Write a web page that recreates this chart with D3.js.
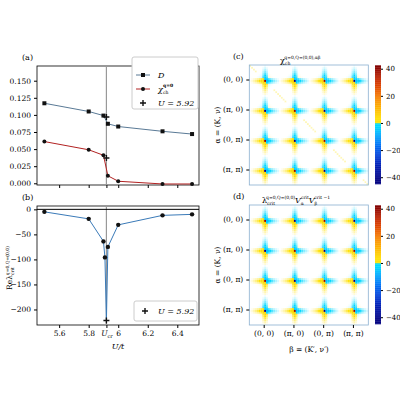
<!DOCTYPE html><html><head><meta charset="utf-8"><script src="https://cdn.jsdelivr.net/npm/d3@7"></script>
<style>body{margin:0;background:#fff}svg{font-family:'DejaVu Serif',serif}</style></head><body><svg id="c" width="400" height="400"></svg><script>
const U = [5.5, 5.8, 5.9, 5.93, 6.0, 6.3, 6.5];
const Dvals = [0.117, 0.105, 0.099, 0.087, 0.083, 0.076, 0.072];
const chiVals = [0.061, 0.049, 0.041, 0.011, 0.003, -0.001, -0.001];
const critMark = {U: 5.92, D: 0.097, chi: 0.037};
const Ub = [5.5, 5.8, 5.9, 5.91, 5.92, 5.93, 6.0, 6.3, 6.5];
const lamVals = [-5, -19, -64, -96, -222, -75, -31, -12, -10];
const yTicksA = [0, 0.025, 0.05, 0.075, 0.1, 0.125, 0.15];
const yTicksB = [0, -50, -100, -150, -200];
const xTicks = [5.6, 5.8, 5.92, 6.0, 6.2, 6.4];
const xTickLabels = ["5.6","5.8","U_cr","6","6.2","6.4"];
const hmLabels = ["(0, 0)","(π, 0)","(0, π)","(π, π)"];
const armProfile = [40, 6, 4, 3, 2.2, 1.6, 1.1, 0.7, 0.4];
const cbTicks = [40, 20, 0, -20, -40];

const svg = d3.select('#c');
const x = d3.scaleLinear().domain([5.45, 6.547]).range([37, 199]);
const ya = d3.scaleLinear().domain([-0.0025, 0.1715]).range([185, 66]);
const yb = d3.scaleLinear().domain([-231, 6.7]).range([325, 206]);
const fs = 7.5;

function frame(y0, y1){
  svg.append('rect').attr('x',37).attr('y',y0).attr('width',162).attr('height',y1-y0).attr('fill','none').attr('stroke','#000').attr('stroke-width',0.8);
  svg.append('line').attr('x1',x(5.92)).attr('x2',x(5.92)).attr('y1',y0).attr('y2',y1).attr('stroke','#999').attr('stroke-width',1.2);
}
frame(66,185);
const ga = svg.append('g');
ga.append('g').attr('transform','translate(37,0)').call(d3.axisLeft(ya).tickValues(yTicksA).tickFormat(d3.format('.3f')).tickSize(3)).call(g=>{g.select('.domain').remove();g.selectAll('text').attr('font-size',fs).attr('font-family','DejaVu Serif');});
ga.append('g').attr('transform','translate(0,185)').call(d3.axisBottom(x).tickValues(xTicks).tickFormat('').tickSize(3)).select('.domain').remove();
const line = d3.line();
function series(g, xs, ys, yS, col){
  g.append('path').attr('d', line(xs.map((u,i)=>[x(u), yS(ys[i])]))).attr('fill','none').attr('stroke',col).attr('stroke-width',1);
}
series(ga, U, Dvals, ya, '#5a7a96');
series(ga, U, chiVals, ya, '#b22222');
ga.selectAll('.sq').data(U).join('rect').attr('x',d=>x(d)-2).attr('y',(d,i)=>ya(Dvals[i])-2).attr('width',4).attr('height',4).attr('fill','#111');
ga.selectAll('.ci').data(U).join('circle').attr('cx',d=>x(d)).attr('cy',(d,i)=>ya(chiVals[i])).attr('r',2).attr('fill','#111');
function plus(g,cx,cy){g.append('path').attr('d',`M${cx-3},${cy}H${cx+3}M${cx},${cy-3}V${cy+3}`).attr('stroke','#111').attr('stroke-width',1.4);}
plus(ga, x(critMark.U), ya(critMark.D));
plus(ga, x(critMark.U), ya(critMark.chi));
const lg = svg.append('g');
lg.append('rect').attr('x',132).attr('y',57).attr('width',66).attr('height',52).attr('fill','#fff').attr('stroke','#ccc').attr('rx',2);
lg.append('line').attr('x1',136).attr('x2',150).attr('y1',75).attr('y2',75).attr('stroke','#5a7a96');
lg.append('rect').attr('x',141).attr('y',73).attr('width',4).attr('height',4).attr('fill','#111');
lg.append('text').attr('x',158).attr('y',78).attr('font-size',8).attr('font-style','italic').text('D');
lg.append('line').attr('x1',136).attr('x2',150).attr('y1',89).attr('y2',89).attr('stroke','#b22222');
lg.append('circle').attr('cx',143).attr('cy',89).attr('r',2).attr('fill','#111');
lg.append('text').attr('x',158).attr('y',92).attr('font-size',8).attr('font-style','italic').text('χ');
lg.append('text').attr('x',163).attr('y',94).attr('font-size',4.5).text('ch');
lg.append('text').attr('x',163).attr('y',87).attr('font-size',4.5).attr('font-weight','bold').text('q=0');
plus(lg,143,103);
lg.append('text').attr('x',158).attr('y',106).attr('font-size',8).text('U = 5.92').attr('font-style','italic');
svg.append('text').attr('x',22).attr('y',60).attr('font-size',8).text('(a)');
svg.append('text').attr('x',22).attr('y',200).attr('font-size',8).text('(b)');

frame(206,325);
const gb = svg.append('g');
gb.append('line').attr('x1',37).attr('x2',199).attr('y1',yb(0)).attr('y2',yb(0)).attr('stroke','#000').attr('stroke-width',1);
gb.append('g').attr('transform','translate(37,0)').call(d3.axisLeft(yb).tickValues(yTicksB).tickSize(3)).call(g=>{g.select('.domain').remove();g.selectAll('text').attr('font-size',fs).attr('font-family','DejaVu Serif').text(d=>d<0?'−'+(-d):d);});
const xa = gb.append('g').attr('transform','translate(0,325)').call(d3.axisBottom(x).tickValues(xTicks).tickFormat((d,i)=>xTickLabels[i]).tickSize(3));
xa.select('.domain').remove();
xa.selectAll('text').attr('font-size',fs).attr('font-family','DejaVu Serif').each(function(d,i){ if(xTickLabels[i]==='U_cr'){const t=d3.select(this);t.text('');t.append('tspan').attr('font-style','italic').text('U');t.append('tspan').attr('font-size',5).attr('dy',1.5).text('cr');}});
series(gb, Ub, lamVals, yb, '#3a7ab8');
gb.selectAll('.cb').data(Ub.filter(u=>u!==5.92)).join('circle').attr('cx',d=>x(d)).attr('cy',d=>yb(lamVals[Ub.indexOf(d)])).attr('r',2.2).attr('fill','#111');
plus(gb, x(5.92), yb(-222));
svg.append('text').attr('x',118).attr('y',349).attr('font-size',8).attr('text-anchor','middle').attr('font-style','italic').text('U/t');
const yl = svg.append('text').attr('transform','translate(12,268) rotate(-90)').attr('text-anchor','middle').attr('font-size',7.5);
yl.append('tspan').text('Reλ');yl.append('tspan').attr('font-size',4.5).attr('dy',1.5).text('crit');yl.append('tspan').attr('font-size',4.5).attr('dx',-8).attr('dy',-5).text('q=0,Q=(0,0)');
const lgb = svg.append('g');
lgb.append('rect').attr('x',134).attr('y',301).attr('width',63).attr('height',20).attr('fill','#fff').attr('stroke','#ccc').attr('rx',2);
plus(lgb,145,311);
lgb.append('text').attr('x',158).attr('y',314).attr('font-size',8).attr('font-style','italic').text('U = 5.92');

function col(v){
  if (Math.abs(v) < 0.25) return '#fff';
  if (v>0){
    if (v<3) return d3.interpolateRgb('#fff','#ffe000')(Math.min(1,(v-0.25)/2.75));
    return d3.interpolateRgbBasis(['#ffe000','#ff9a00','#e03000','#800000'])(Math.min(1,(v-3)/39));
  } else {
    const a=-v;
    if (a<3) return d3.interpolateRgb('#fff','#00d8ff')(Math.min(1,(a-0.25)/2.75));
    return d3.interpolateRgbBasis(['#00d8ff','#0070ff','#0020c0','#000080'])(Math.min(1,(a-3)/39));
  }
}
function heat(y0, diag, title){
  const N=64, hx=d3.scaleLinear().domain([0,N]).range([249.3,368.3]), hy=d3.scaleLinear().domain([0,N]).range([y0,y0+120]);
  const cells=[];
  const L=armProfile.length;
  for(let i=0;i<N;i++)for(let j=0;j<N;j++){
    const bi=Math.floor(i/16), bj=Math.floor(j/16);
    const dx=i-(bi*16+8), dy=j-(bj*16+8);
    let v=0;
    const ax=Math.abs(dx), ay=Math.abs(dy);
    if(ax===0&&ay===0) v=(bi+bj)%2?-42:40;
    else if(ay===0 && ax<L){ v=armProfile[ax]*(dx<0?1:-1); }
    else if(ax===0 && ay<L){ v=armProfile[ay]*(dy>0?1:-1); }
    else if(ay===1 && ax<L){ v=armProfile[ax]*0.6*(dx<0?1:-1); }
    else if(ax===1 && ay<L){ v=armProfile[ay]*0.6*(dy>0?1:-1); }
    else if(ax+ay<L){ v=armProfile[ax+ay]*0.3*((dx<0)===(dy>0)?1:-1); }
    if(diag && i===j && v===0) v=1.0;
    cells.push({i,j,v});
  }
  const g=svg.append('g');
  g.selectAll('rect').data(cells).join('rect').attr('x',d=>hx(d.i)).attr('y',d=>hy(d.j)).attr('width',hx(1)-hx(0)+0.1).attr('height',hy(1)-hy(0)+0.1).attr('fill',d=>col(d.v));
  g.append('rect').attr('x',249.3).attr('y',y0).attr('width',119).attr('height',120).attr('fill','none').attr('stroke','#8ab0d0').attr('stroke-width',0.8);
  const band=d3.scaleBand().domain(hmLabels).range([y0,y0+120]);
  g.append('g').attr('transform','translate(249.3,0)').call(d3.axisLeft(band).tickSize(3)).call(a=>{a.select('.domain').remove();a.selectAll('text').attr('font-size',7.5).attr('font-family','DejaVu Serif');});
  svg.append('text').attr('transform',`translate(220,${y0+60}) rotate(-90)`).attr('text-anchor','middle').attr('font-size',7.5).text('α = (K, ν)');
  const cy=d3.scaleLinear().domain([-45,42]).range([y0+119,y0+1]);
  const stops=d3.range(-45,42.01,0.5);
  svg.append('g').selectAll('rect').data(stops).join('rect').attr('x',375).attr('width',6).attr('y',d=>cy(d+0.5)).attr('height',cy(0)-cy(0.5)+0.3).attr('fill',d=>d<0?col(Math.min(d,-3)):col(Math.max(d,3)));
  svg.append('g').attr('transform','translate(381,0)').call(d3.axisRight(cy).tickValues(cbTicks).tickSize(2).tickFormat(d=>d<0?'−'+(-d):d)).call(a=>{a.select('.domain').remove();a.selectAll('text').attr('font-size',7).attr('font-family','DejaVu Serif');});
  title(y0);
}
heat(65,true,y0=>{
  svg.append('text').attr('x',233).attr('y',59).attr('font-size',8).text('(c)');
  const t=svg.append('text').attr('x',280).attr('y',63).attr('font-size',8);
  t.append('tspan').text('χ');t.append('tspan').attr('font-size',4.5).attr('dy',1.5).text('ch');
  t.append('tspan').attr('font-size',4.5).attr('dx',-6).attr('dy',-6).text('q=0,Q=(0,0),αβ');
});
heat(205,false,y0=>{
  svg.append('text').attr('x',233).attr('y',199).attr('font-size',8).text('(d)');
  const t=svg.append('text').attr('x',262).attr('y',203).attr('font-size',8);
  t.append('tspan').text('λ');t.append('tspan').attr('font-size',4.5).attr('dy',1.5).text('crit');
  t.append('tspan').attr('font-size',4.5).attr('dx',-9).attr('dy',-6).text('q=0,Q=(0,0)');
  t.append('tspan').attr('dy',4.5).attr('font-style','italic').text('V');t.append('tspan').attr('font-size',4.5).attr('dy',1.5).text('α');
  t.append('tspan').attr('font-size',4.5).attr('dx',-3).attr('dy',-6).text('crit');
  t.append('tspan').attr('dy',4.5).attr('font-style','italic').text('V');t.append('tspan').attr('font-size',4.5).attr('dy',1.5).text('β');
  t.append('tspan').attr('font-size',4.5).attr('dx',-3).attr('dy',-6).text('crit −1');
  const band=d3.scaleBand().domain(hmLabels).range([249.3,368.3]);
  svg.append('g').attr('transform','translate(0,325)').call(d3.axisBottom(band).tickSize(3)).call(a=>{a.select('.domain').remove();a.selectAll('text').attr('font-size',7.5).attr('font-family','DejaVu Serif');});
  svg.append('text').attr('x',309).attr('y',352).attr('text-anchor','middle').attr('font-size',7.5).text('β = (K′, ν′)');
});
</script></body></html>
